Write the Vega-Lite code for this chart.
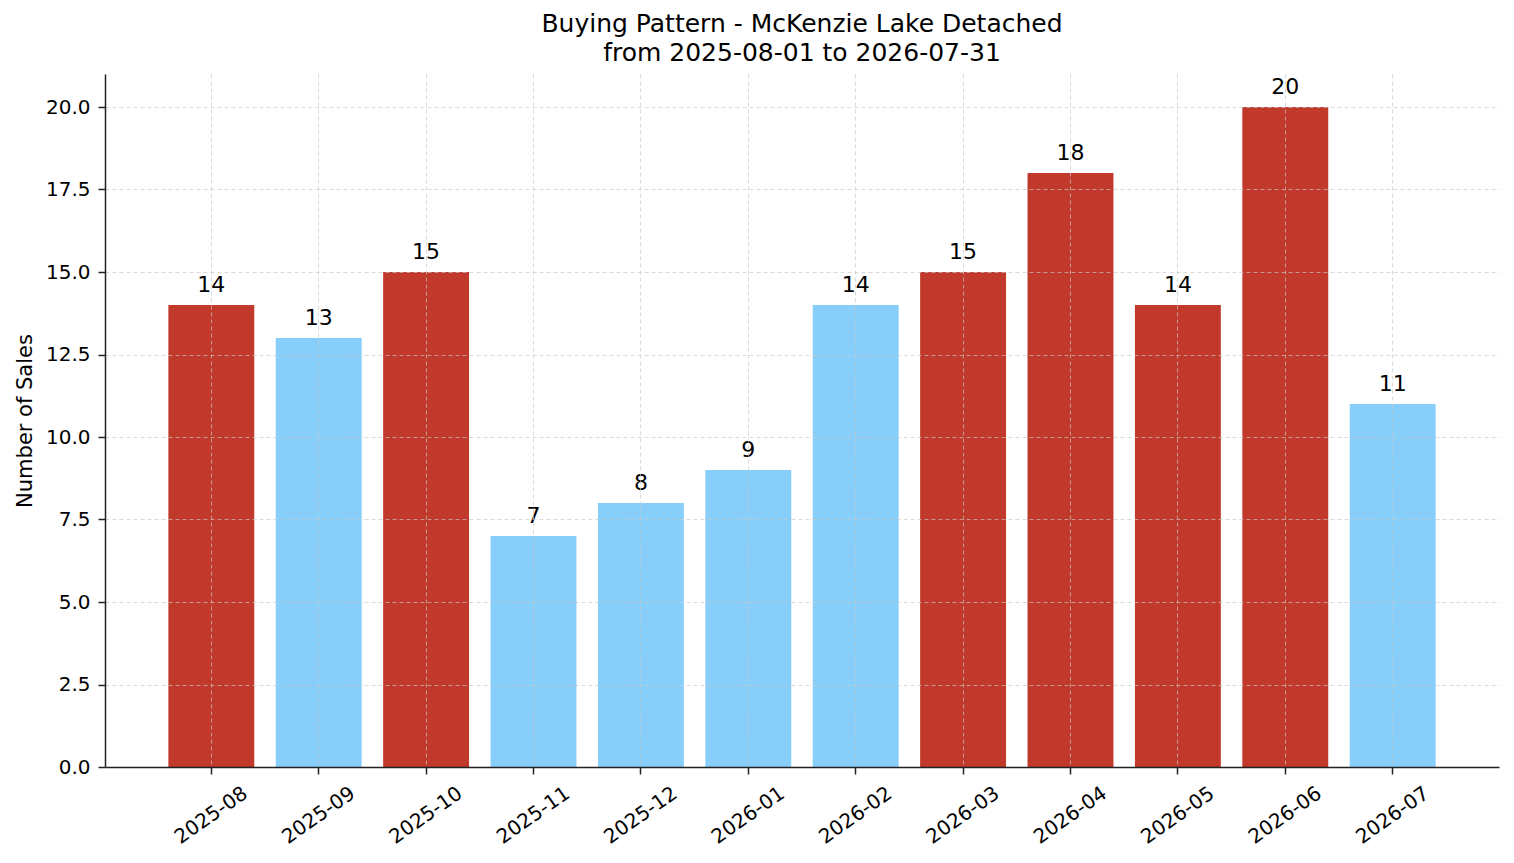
{
  "$schema": "https://vega.github.io/schema/vega-lite/v6.json",
  "autosize": {"type": "none"},
  "width": 1394,
  "height": 693,
  "padding": {"left": 105, "top": 74, "right": 15, "bottom": 96},
  "background": "white",
  "title": {
    "text": ["Buying Pattern - McKenzie Lake Detached", "from 2025-08-01 to 2026-07-31"],
    "font": "DejaVu Sans",
    "fontSize": 25,
    "fontWeight": "normal",
    "color": "black",
    "anchor": "middle",
    "lineHeight": 29,
    "offset": 8
  },
  "config": {
    "view": {"stroke": null},
    "axis": {
      "labelFont": "DejaVu Sans",
      "labelFontSize": 20,
      "labelColor": "black",
      "titleFont": "DejaVu Sans",
      "titleFontSize": 21,
      "titleFontWeight": "normal",
      "titleColor": "black",
      "domainColor": "#222222",
      "domainWidth": 1.5,
      "tickColor": "#222222",
      "tickWidth": 1.5,
      "tickSize": 7,
      "gridColor": "#c8c8c8",
      "gridDash": [4, 3],
      "gridWidth": 0.8,
      "gridOpacity": 0.85
    }
  },
  "data": {
    "values": [
      {"month": "2025-08", "sales": 14, "level": "high"},
      {"month": "2025-09", "sales": 13, "level": "low"},
      {"month": "2025-10", "sales": 15, "level": "high"},
      {"month": "2025-11", "sales": 7, "level": "low"},
      {"month": "2025-12", "sales": 8, "level": "low"},
      {"month": "2026-01", "sales": 9, "level": "low"},
      {"month": "2026-02", "sales": 14, "level": "low"},
      {"month": "2026-03", "sales": 15, "level": "high"},
      {"month": "2026-04", "sales": 18, "level": "high"},
      {"month": "2026-05", "sales": 14, "level": "high"},
      {"month": "2026-06", "sales": 20, "level": "high"},
      {"month": "2026-07", "sales": 11, "level": "low"}
    ]
  },
  "encoding": {
    "x": {
      "field": "month",
      "type": "ordinal",
      "sort": null,
      "scale": {"paddingInner": 0.2, "paddingOuter": 0.59},
      "axis": {
        "title": null,
        "labelAngle": -35,
        "labelAlign": "center",
        "labelBaseline": "middle",
        "labelPadding": 41,
        "grid": true,
        "zindex": 1
      }
    },
    "y": {
      "field": "sales",
      "type": "quantitative",
      "scale": {"domain": [0, 21], "nice": false},
      "axis": {
        "title": "Number of Sales",
        "values": [0, 2.5, 5, 7.5, 10, 12.5, 15, 17.5, 20],
        "format": ".1f",
        "labelPadding": 8,
        "titlePadding": 10,
        "grid": true,
        "zindex": 1
      }
    }
  },
  "layer": [
    {
      "mark": {"type": "bar"},
      "encoding": {
        "color": {
          "field": "level",
          "type": "nominal",
          "scale": {"domain": ["high", "low"], "range": ["#C0392B", "#87CEFA"]},
          "legend": null
        }
      }
    },
    {
      "mark": {
        "type": "text",
        "baseline": "alphabetic",
        "dy": -13,
        "font": "DejaVu Sans",
        "fontSize": 22,
        "color": "black"
      },
      "encoding": {"text": {"field": "sales", "type": "quantitative"}}
    }
  ]
}
